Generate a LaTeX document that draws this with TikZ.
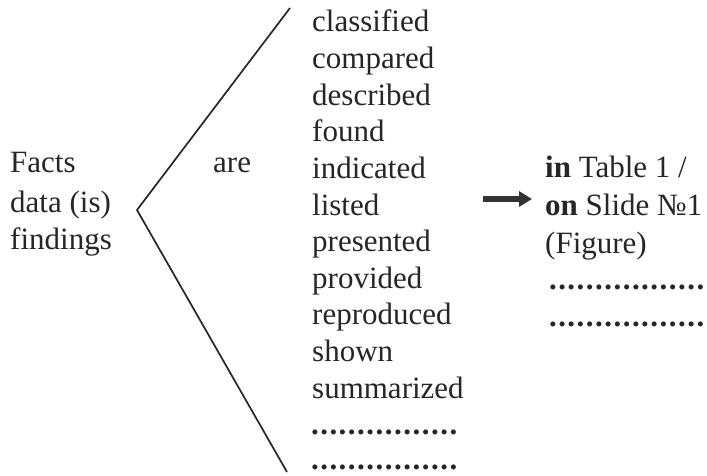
\documentclass[tikz,border=0pt]{standalone}
\usepackage{fontspec}
\setmainfont{Liberation Serif}
\usetikzlibrary{arrows.meta}
\newcommand{\dotrow}[1]{\makebox[#1]{\xleaders\hbox to 9pt{\hss\textbf{.}\hss}\hfill}}
\begin{document}
\begin{tikzpicture}[x=1pt,y=-1pt,
  txt/.style={anchor=base west,inner sep=0pt,font=\fontsize{31}{36}\selectfont,text=black!85},
  bracket/.style={line width=1.7pt,draw=black!85},
  arr/.style={line width=5.5pt,draw=black!80,-{Triangle[length=13pt,width=15pt,fill=black!80]}}]
\useasboundingbox (0,0) rectangle (707,476);
% left subject
\node[txt] (facts) at (10,173) {Facts};
\node[txt] (data) at (10,212) {data (is)};
\node[txt] (find) at (10,249) {findings};
\node[txt] (are) at (213,173) {are};
% bracket lines
\coordinate (top) at (290,8);
\coordinate (vtx) at (137,210);
\coordinate (bot) at (287,472);
\draw[bracket] (top) -- (vtx) -- (bot);
% verbs
\node[txt] (v1) at (312,32) {classified};
\node[txt] (v2) at (312,68.6) {compared};
\node[txt] (v3) at (312,105.2) {described};
\node[txt] (v4) at (312,141.8) {found};
\node[txt] (v5) at (312,178.4) {indicated};
\node[txt] (v6) at (312,215) {listed};
\node[txt] (v7) at (312,251.6) {presented};
\node[txt] (v8) at (312,288.2) {provided};
\node[txt] (v9) at (312,324.8) {reproduced};
\node[txt] (v10) at (312,361.4) {shown};
\node[txt] (v11) at (312,398) {summarized};
\node[txt] (d1) at (310,434) {\dotrow{148pt}};
\node[txt] (d2) at (310,469) {\dotrow{148pt}};
% right
\coordinate (as) at (483,199);
\coordinate (ae) at (532,199);
\node[txt] (t1) at (545,178) {\textbf{in} Table 1 /};
\node[txt] (t2) at (545,215) {\textbf{on} Slide №1};
\node[txt] (t3) at (545,253) {(Figure)};
\node[txt] (d3) at (548,289) {\dotrow{157pt}};
\node[txt] (d4) at (548,326) {\dotrow{157pt}};
\draw[arr] (as) -- (ae);
\end{tikzpicture}
\end{document}
